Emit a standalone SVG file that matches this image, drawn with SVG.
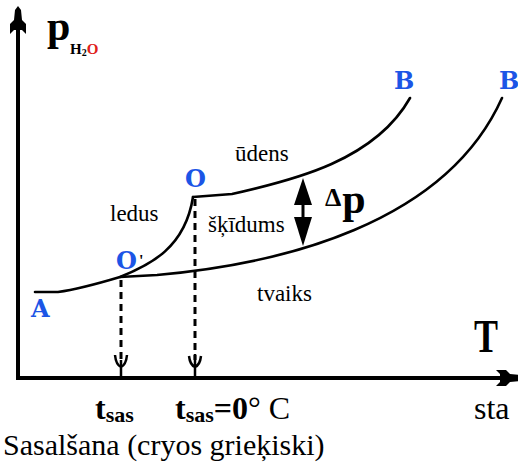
<svg xmlns="http://www.w3.org/2000/svg" width="518" height="466" viewBox="0 0 518 466">
<style>
text{font-family:"Liberation Serif","Times New Roman",serif;fill:#000}
.ax{stroke:#000;stroke-width:4;fill:none}
.cv{stroke:#000;stroke-width:2.6;fill:none;stroke-linecap:round}
.ds{stroke:#000;stroke-width:3;fill:none;stroke-dasharray:7 5}
.ah{stroke:#000;stroke-width:2.5;fill:none}
text.lbl{font-family:"DejaVu Serif",serif;font-weight:bold;fill:#1c55e6;font-size:24px}
.b{font-weight:bold}
.r{font-size:23px}
</style>
<defs>
<polygon id="rk" points="0,0 3,4 4,14 8,18 8,28 4,24 0,24 -4,24 -8,28 -8,18 -4,14 -3,4" fill="#000"/>
</defs>
<g id="axes">
<line class="ax" x1="18" y1="20" x2="18" y2="380"/>
<line class="ax" x1="16" y1="378" x2="512" y2="378"/>
<use href="#rk" transform="translate(18,6)"/>
<use href="#rk" transform="translate(524,378) rotate(90)"/>
</g>
<g id="connectors">
<path class="cv" d="M35,292 L58,292 C80,289 100,283 120,277 C150,265 185,248 193,197"/>
<path class="cv" d="M193,197 L232,194 C295,180 375,160 410,98"/>
<path class="cv" d="M120,277 L157,275 C280,264 445,225 502,98"/>
<line class="ds" x1="121" y1="280" x2="121" y2="360"/>
<line class="ds" x1="195" y1="199" x2="195" y2="360"/>
<path class="ah" d="M115,355 Q116,365 121,367 Q126,365 127,355 M121,360 L121,378"/>
<path class="ah" d="M189,356 Q190,365 195,367 Q200,365 201,356 M195,354 L195,378"/>
<g id="dp-arrow">
<line x1="303" y1="185" x2="303" y2="240" stroke="#000" stroke-width="3"/>
<polygon points="303,178 312,205 294,205" fill="#000"/>
<polygon points="303,246 312,217 294,217" fill="#000"/>
</g>
</g>
<g id="labels-points">
<text class="lbl" x="31" y="317">A</text>
<g id="node-O1"><text class="lbl" x="116" y="269">O</text><text class="b" x="139" y="266" font-size="16">'</text></g>
<text id="node-O" class="lbl" x="185" y="187">O</text>
<text id="node-B" class="lbl" x="394" y="89">B</text>
<text id="node-B1" class="lbl" x="499" y="89">B</text>
</g>
<g id="axis-labels">
<text class="b" x="47" y="40" font-size="42">p</text>
<text class="b" x="70" y="54" font-size="15">H<tspan font-size="10" dy="2">2</tspan><tspan dy="-2" fill="#e0201a">O</tspan></text>
<text class="b" transform="translate(474,352) scale(1,1.3)" x="0" y="0" font-size="36">T</text>
</g>
<g id="region-labels">
<text class="r" x="235" y="161">ūdens</text>
<text class="r" x="110" y="221">ledus</text>
<text class="r" x="208" y="232">šķīdums</text>
<text class="r" x="257" y="301">tvaiks</text>
</g>
<text class="b" x="325" y="206" font-size="26">Δ<tspan font-size="42" dx="1" dy="7">p</tspan></text>
<g id="bottom">
<text class="b" x="95" y="419" font-size="32">t<tspan font-size="22" dy="3">sas</tspan></text>
<text x="175" y="419" font-size="32"><tspan class="b">t</tspan><tspan class="b" font-size="22" dy="3">sas</tspan><tspan class="b" dy="-3">=0</tspan>° C</text>
<text x="474" y="419" font-size="32">sta</text>
<text x="3" y="455" font-size="30">Sasalšana (cryos grieķiski)</text>
</g>
</svg>
